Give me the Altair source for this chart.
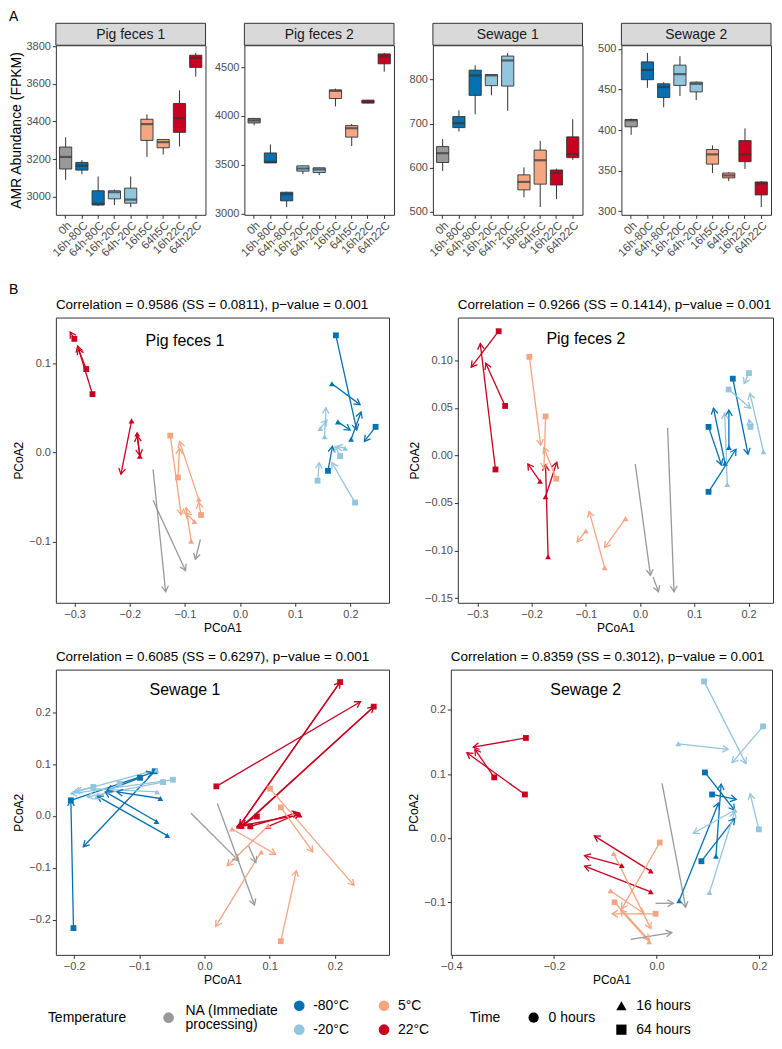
import altair as alt
import pandas as pd

FONT = "Liberation Sans"

# ---------------- categories ----------------
NA_T = "NA (Immediate processing)"
T_M80 = "-80°C"
T_M20 = "-20°C"
T_5 = "5°C"
T_22 = "22°C"
TEMP_ORDER = [NA_T, T_M80, T_M20, T_5, T_22]
TEMP_COLORS = ["#999999", "#0571b0", "#92c5de", "#f4a582", "#ca0020"]
TIME_ORDER = ["0 hours", "16 hours", "64 hours"]
TIME_SHAPES = ["circle", "triangle-up", "square"]
CODE_TEMP = {"NA": NA_T, "-80": T_M80, "-20": T_M20, "5": T_5, "22": T_22}
CODE_TIME = {"0": "0 hours", "16": "16 hours", "64": "64 hours"}

# ---------------- panel A: boxplots ----------------
GROUPS = ["0h", "16h-80C", "64h-80C", "16h-20C", "64h-20C", "16h5C", "64h5C", "16h22C", "64h22C"]
GROUP_TEMP = [NA_T, T_M80, T_M80, T_M20, T_M20, T_5, T_5, T_22, T_22]

PF1_LO = [3089, 3119, 2950, 2955, 2944, 3211, 3224, 3267, 3639]
PF1_Q1 = [3147, 3141, 2955, 2988, 2965, 3299, 3260, 3342, 3688]
PF1_MED = [3211, 3164, 2962, 3023, 2984, 3386, 3290, 3417, 3739]
PF1_Q3 = [3264, 3182, 3031, 3031, 3045, 3412, 3304, 3496, 3753]
PF1_HI = [3316, 3194, 3107, 3037, 3107, 3438, 3307, 3566, 3765]
PF1_TICKS = [3000, 3200, 3400, 3600, 3800]

PF2_LO = [3905, 3520, 3068, 3405, 3395, 4098, 3693, 4130, 4453]
PF2_Q1 = [3929, 3520, 3132, 3436, 3422, 4179, 3784, 4132, 4534]
PF2_MED = [3955, 3530, 3200, 3463, 3453, 4257, 3875, 4145, 4611]
PF2_Q3 = [3975, 3622, 3220, 3490, 3470, 4267, 3902, 4162, 4635]
PF2_HI = [3976, 3709, 3226, 3492, 3472, 4280, 3919, 4165, 4645]
PF2_TICKS = [3000, 3500, 4000, 4500]

SW1_LO = [593, 682, 721, 764, 729, 533, 511, 529, 618]
SW1_Q1 = [612, 691, 764, 786, 785, 550, 563, 561, 623]
SW1_MED = [633, 701, 809, 809, 843, 568, 617, 589, 631]
SW1_Q3 = [648, 716, 821, 811, 853, 584, 640, 595, 670]
SW1_HI = [665, 730, 832, 812, 860, 601, 661, 598, 710]
SW1_TICKS = [500, 600, 700, 800]

SW2_LO = [394, 452, 428, 442, 437, 347, 337, 352, 305]
SW2_Q1 = [404, 462, 440, 455, 447, 358, 341, 361, 320]
SW2_MED = [412, 474, 453, 469, 457, 370, 344, 370, 334]
SW2_Q3 = [413, 484, 457, 480, 459, 376, 347, 387, 336]
SW2_HI = [414, 495, 459, 491, 460, 381, 348, 402, 337]
SW2_TICKS = [300, 350, 400, 450, 500]

# ---------------- panel B: procrustes arrows ----------------
PF1_X0 = [-0.2676, -0.2790, -0.3006, -0.1968, -0.1866, -0.1818,
          -0.1266, -0.0750, -0.0888, -0.0708, -0.1128, -0.0828,
          -0.1578, -0.1578, -0.0720,
          0.1737, 0.1665, 0.1773, 0.2013, 0.2457, 0.1593,
          0.2085, 0.1405, 0.1532, 0.1454, 0.1814, 0.1905]
PF1_Y0 = [0.0658, 0.0940, 0.1280, 0.0357, 0.0210, -0.0040,
          0.0191, -0.0526, -0.0996, -0.0702, -0.0279, -0.0776,
          -0.0188, -0.0537, -0.0978,
          0.1320, 0.0776, 0.0346, 0.0151, 0.0290, -0.0205,
          -0.0562, -0.0316, 0.0180, 0.0272, -0.0040, 0.0050]
PF1_X1 = [-0.2946, -0.2934, -0.3080, -0.2160, -0.1818, -0.1866,
          -0.1068, -0.1098, -0.0978, -0.0750, -0.1098, -0.0990,
          -0.1350, -0.0990, -0.0810,
          0.2115, 0.2175, 0.1995, 0.2193, 0.2253, 0.1676,
          0.1665, 0.1436, 0.1557, 0.1575, 0.1724, 0.1755]
PF1_Y1 = [0.1199, 0.1170, 0.1357, -0.0243, -0.0033, 0.0190,
          -0.0700, 0.0125, -0.0620, -0.0560, 0.0050, -0.0680,
          -0.1566, -0.1327, -0.1200,
          0.0254, 0.0540, 0.0254, 0.0456, 0.0126, 0.0070,
          -0.0114, -0.0114, 0.0504, 0.0364, 0.0070, 0.0070]
PF1_TEMP = ["22", "22", "22", "22", "22", "22", "5", "5", "5", "5", "5", "5", "NA", "NA", "NA",
            "-80", "-80", "-80", "-80", "-80", "-80", "-20", "-20", "-20", "-20", "-20", "-20"]
PF1_TIME = ["64", "64", "64", "16", "16", "16", "64", "16", "16", "64", "64", "16", "0", "0", "0",
            "64", "16", "16", "16", "64", "64", "64", "64", "16", "16", "64", "16"]

PF2_X0 = [-0.2607, -0.2666, -0.2488, -0.1845, -0.1743, -0.1696,
          -0.2041, -0.1743, -0.1546, -0.0654, -0.0268, -0.1000,
          -0.0089, 0.0507, 0.0239,
          0.1709, 0.1262, 0.1262, 0.1566, 0.1637,
          0.2007, 0.1632, 0.2275, 0.1607, 0.2035]
PF2_Y0 = [0.1306, -0.0148, 0.0520, -0.0272, -0.0434, -0.1065,
          0.1037, 0.0410, -0.0245, -0.1180, -0.0665, -0.0796,
          -0.0090, 0.0290, -0.1280,
          0.0807, 0.0300, -0.0383, -0.0083, 0.0083,
          0.0866, 0.0693, 0.0038, -0.0307, 0.0300]
PF2_X1 = [-0.3113, -0.2946, -0.2845, -0.2070, -0.1536, -0.1743,
          -0.1832, -0.1773, -0.1773, -0.0939, -0.0654, -0.1160,
          0.0191, 0.0625, 0.0340,
          0.1989, 0.1500, 0.1768, 0.1352, 0.1637,
          0.1918, 0.2036, 0.2025, 0.1560, 0.2010]
PF2_Y1 = [0.0928, 0.1176, 0.0969, -0.0090, -0.0072, -0.0100,
          0.0107, -0.0142, 0.0083, -0.0589, -0.0969, -0.0910,
          -0.1262, -0.1434, -0.1434,
          0.0013, -0.0100, 0.0065, 0.0496, 0.0476,
          0.0755, 0.0496, 0.0652, 0.0445, 0.0375]
PF2_TEMP = ["22", "22", "22", "22", "22", "22", "5", "5", "5", "5", "5", "5", "NA", "NA", "NA",
            "-80", "-80", "-80", "-80", "-80", "-20", "-20", "-20", "-20", "-20"]
PF2_TIME = ["64", "64", "64", "16", "16", "16", "64", "64", "64", "16", "16", "16", "0", "0", "0",
            "64", "64", "64", "16", "16", "64", "64", "16", "16", "64"]

SW1_X0 = [-0.2010, -0.0763, -0.0571, -0.0737, -0.0677, -0.0990, -0.2050,
          -0.0485, -0.0737, -0.0636, -0.0727, -0.1707, -0.1303,
          -0.0207, 0.0197, 0.0677,
          0.0182, 0.0529, 0.0575, 0.2080, 0.2596, 0.1459, 0.0979, 0.0702, 0.0803,
          0.1004, 0.1171, 0.1171, 0.0424, 0.0868, 0.0979]
SW1_Y0 = [-0.2163, 0.0860, -0.0380, -0.0108, 0.0335, 0.0734, 0.0300,
          0.0696, 0.0886, 0.0651, 0.0462, 0.0557, 0.0620,
          0.0051, 0.0240, -0.0582,
          0.0569, -0.0202, -0.0202, 0.2580, 0.2106, 0.0019, -0.0202, -0.0202, -0.0013,
          0.0525, 0.0164, -0.2416, -0.0253, -0.0696, -0.0190]
SW1_X1 = [-0.2050, -0.1859, -0.1646, -0.1520, -0.1343, -0.1495, -0.0800,
          -0.2050, -0.2000, -0.1798, -0.1747, -0.1960, -0.1680,
          0.0525, 0.0767, 0.0788,
          0.2393, 0.2080, 0.2596, 0.0540, 0.0590, 0.0499, 0.1459, 0.1434, 0.0500,
          0.2292, 0.1661, 0.1409, 0.1090, 0.0172, 0.0348]
SW1_Y1 = [0.0304, -0.0595, 0.0380, 0.0462, 0.0462, 0.0493, 0.0835,
          0.0430, 0.0460, 0.0367, 0.0525, 0.0470, 0.0330,
          -0.0867, -0.1720, -0.0898,
          0.2201, 0.2580, 0.2106, -0.0190, -0.0200, -0.0202, 0.0051, 0.0063, -0.0215,
          -0.1341, -0.0696, -0.1056, -0.0740, -0.2132, -0.0961]
SW1_TEMP = ["-80", "-80", "-80", "-80", "-80", "-80", "-80",
            "-20", "-20", "-20", "-20", "-20", "-20",
            "NA", "NA", "NA",
            "22", "22", "22", "22", "22", "22", "22", "22", "22",
            "5", "5", "5", "5", "5", "5"]
SW1_TIME = ["64", "64", "16", "16", "16", "64", "64",
            "64", "16", "64", "16", "64", "64",
            "0", "0", "0",
            "64", "16", "16", "64", "64", "16", "16", "64", "64",
            "64", "64", "64", "16", "16", "16"]

SW2_X0 = [-0.2547, -0.2566, -0.3164, -0.0113, -0.0113, -0.0679,
          0.0063, -0.0836, -0.0899, -0.0019, -0.0818, -0.0145,
          0.0107, -0.0019, -0.0503,
          0.0440, 0.0874, 0.1157, 0.0943, 0.1082,
          0.0925, 0.2075, 0.0421, 0.1994, 0.1031, 0.1522]
SW2_Y0 = [0.1564, 0.0682, 0.0949, -0.0513, -0.0836, -0.0426,
          -0.0067, -0.0240, -0.0821, -0.1179, -0.1000, -0.1615,
          0.0856, -0.1015, -0.1579,
          -0.0974, -0.0359, -0.0282, 0.1026, 0.0682,
          0.2446, 0.1744, 0.1472, 0.0138, -0.0846, 0.0436]
SW2_X1 = [-0.3572, -0.3698, -0.3541, -0.1214, -0.1403, -0.1403,
          -0.0679, -0.0113, -0.0239, -0.0868, -0.0145, -0.0700,
          0.0566, 0.0327, 0.0296,
          0.1208, 0.1522, 0.1258, 0.1522, 0.1553,
          0.1742, 0.1472, 0.1396, 0.1824, 0.1522, 0.0717]
SW2_Y1 = [0.1420, 0.1333, 0.1385, 0.0036, -0.0436, -0.0272,
          -0.1103, -0.1410, -0.1179, -0.1179, -0.1590, -0.1120,
          -0.1077, -0.1015, -0.1472,
          0.0549, 0.0308, 0.0846, 0.0436, 0.0605,
          0.1164, 0.1179, 0.1385, 0.0692, 0.0410, 0.0077]
SW2_TEMP = ["22", "22", "22", "22", "22", "22", "5", "5", "5", "5", "5", "5", "NA", "NA", "NA",
            "-80", "-80", "-80", "-80", "-80", "-20", "-20", "-20", "-20", "-20", "-20"]
SW2_TIME = ["64", "64", "64", "16", "16", "16", "64", "16", "16", "64", "64", "16", "0", "0", "0",
            "16", "64", "16", "64", "64", "64", "64", "16", "64", "16", "16"]

TITLE_PF1 = "Correlation = 0.9586 (SS = 0.0811), p\u2212value = 0.001"
TITLE_PF2 = "Correlation = 0.9266 (SS = 0.1414), p\u2212value = 0.001"
TITLE_SW1 = "Correlation = 0.6085 (SS = 0.6297), p\u2212value = 0.001"
TITLE_SW2 = "Correlation = 0.8359 (SS = 0.3012), p\u2212value = 0.001"

# ---------------- scales ----------------
TEMP_SCALE = alt.Scale(domain=TEMP_ORDER, range=TEMP_COLORS)
TIME_SCALE = alt.Scale(domain=TIME_ORDER, range=TIME_SHAPES)

ARROW = "M-0.55,0.95L0,0L0.55,0.95"
BOX_W, BOX_H = 150, 170


def box_panel(name, lo, q1, med, q3, hi, ticks, first=False):
    df = pd.DataFrame({"group": GROUPS, "temp": GROUP_TEMP, "lo": lo, "q1": q1,
                       "med": med, "q3": q3, "hi": hi})
    rng = max(hi) - min(lo)
    dom = [min(lo) - 0.05 * rng, max(hi) + 0.05 * rng]
    x = alt.X("group:N", sort=GROUPS,
              scale=alt.Scale(paddingInner=0.25, paddingOuter=0.225),
              axis=alt.Axis(title=None, labelAngle=-45, labelAlign="right",
                            labelBaseline="top", labelFontSize=11.5, labelPadding=1,
                            labelColor="#4d4d4d"))
    yax = alt.Axis(values=ticks, format="d", title="AMR Abundance (FPKM)" if first else None,
                   titleFontSize=14, titlePadding=2, minExtent=30, maxExtent=30)
    ys = alt.Scale(domain=dom, nice=False, zero=False)
    base = alt.Chart(df)
    whisk = base.mark_rule(color="#333333", strokeWidth=1).encode(
        x=x, y=alt.Y("lo:Q", scale=ys, axis=yax), y2="hi:Q")
    box = base.mark_bar(stroke="#333333", strokeWidth=0.9).encode(
        x=x, y=alt.Y("q1:Q", scale=ys, axis=yax), y2="q3:Q",
        fill=alt.Fill("temp:N", scale=TEMP_SCALE, legend=None))
    medl = base.mark_tick(color="#333333", thickness=2.2).encode(
        x=x, y=alt.Y("med:Q", scale=ys, axis=yax))
    hdr = alt.Chart(pd.DataFrame({"t": [name]}))
    strip = hdr.mark_rect(fill="#d9d9d9", stroke="#333333", strokeWidth=1).encode(
        x=alt.value(0), x2=alt.value(BOX_W), y=alt.value(-22), y2=alt.value(0))
    strip_t = hdr.mark_text(font=FONT, fontSize=14, color="#1a1a1a", baseline="middle").encode(
        x=alt.value(BOX_W / 2), y=alt.value(-10.5), text="t:N")
    layers = [whisk, box, medl, strip, strip_t]
    if first:
        for letter, ly in (("A", -35), ("B", BOX_H + 68)):
            layers.append(alt.Chart(pd.DataFrame({"t": [letter]})).mark_text(
                font=FONT, fontSize=14, align="left", baseline="top", color="black").encode(
                x=alt.value(-47), y=alt.value(ly), text="t:N"))
    return alt.layer(*layers).properties(width=BOX_W, height=BOX_H)


def pcoa_panel(x0, y0, x1, y1, temps, times, title, label, lx, ly, W, H,
               xdom, ydom, xticks, yticks, yfmt):
    df = pd.DataFrame({"x0": x0, "y0": y0, "x1": x1, "y1": y1,
                       "temp": [CODE_TEMP[t] for t in temps],
                       "time": [CODE_TIME[t] for t in times]})
    kx = W / (xdom[1] - xdom[0])
    ky = H / (ydom[1] - ydom[0])
    xs = alt.Scale(domain=xdom, nice=False, zero=False)
    ys = alt.Scale(domain=ydom, nice=False, zero=False)
    xax = alt.Axis(values=xticks, format=".1f", title="PCoA1")
    yax = alt.Axis(values=yticks, format=yfmt, title="PCoA2")
    col = alt.Color("temp:N", scale=TEMP_SCALE, legend=None)
    base = alt.Chart(df)
    seg = base.mark_rule(strokeWidth=1.3).encode(
        x=alt.X("x0:Q", scale=xs, axis=xax), y=alt.Y("y0:Q", scale=ys, axis=yax),
        x2="x1:Q", y2="y1:Q", color=col)
    head = base.transform_calculate(
        ang=f"(atan2((datum.x1 - datum.x0) * {kx:.3f}, (datum.y1 - datum.y0) * {ky:.3f}) * 180 / PI + 360) % 360"
    ).mark_point(shape=ARROW, filled=False, size=150, strokeWidth=1.3, opacity=1).encode(
        x=alt.X("x1:Q", scale=xs, axis=xax), y=alt.Y("y1:Q", scale=ys, axis=yax),
        angle=alt.Angle("ang:Q", scale=None), color=col)
    pts = base.transform_filter(f"datum.temp != '{NA_T}'").mark_point(
        filled=True, size=34, opacity=1).encode(
        x=alt.X("x0:Q", scale=xs, axis=xax), y=alt.Y("y0:Q", scale=ys, axis=yax),
        color=col, shape=alt.Shape("time:N", scale=TIME_SCALE, legend=None))
    lab = alt.Chart(pd.DataFrame({"lx": [lx], "ly": [ly], "t": [label]})).mark_text(
        font=FONT, fontSize=16, color="black").encode(
        x=alt.X("lx:Q", scale=xs, axis=xax), y=alt.Y("ly:Q", scale=ys, axis=yax), text="t:N")
    return alt.layer(seg, head, pts, lab).properties(
        width=W, height=H,
        title=alt.TitleParams(title, anchor="start", frame="group", fontSize=13.5,
                              font=FONT, fontWeight="normal", color="black", offset=6))


def legend_chart():
    one = pd.DataFrame({"k": [0]})
    layers = []

    def txt(s, x, y):
        return alt.Chart(one).mark_text(font=FONT, fontSize=14, color="black", align="left",
                                        baseline="middle", text=s).encode(
            x=alt.value(x), y=alt.value(y))

    r1, r2, mid = 13, 37, 25
    dx = -47
    layers.append(txt("Temperature", 39 + dx, mid))
    temp_slots = [(NA_T, 160, mid), (T_M80, 291, r1), (T_M20, 291, r2), (T_5, 376, r1), (T_22, 376, r2)]
    for cat, sx, sy in temp_slots:
        layers.append(alt.Chart(pd.DataFrame({"temp": [cat]})).mark_point(
            filled=True, size=115, opacity=1, shape="circle").encode(
            x=alt.value(sx + dx), y=alt.value(sy),
            color=alt.Color("temp:N", scale=TEMP_SCALE, legend=None)))
        if cat == NA_T:
            layers.append(txt("NA (Immediate", sx + 17 + dx, mid - 7))
            layers.append(txt("processing)", sx + 17 + dx, mid + 7))
        else:
            layers.append(txt(cat, sx + 14 + dx, sy))
    layers.append(txt("Time", 462 + dx, mid))
    time_slots = [("0 hours", "circle", 526, mid), ("16 hours", "triangle-up", 614, r1),
                  ("64 hours", "square", 614, r2)]
    for lab, shp, sx, sy in time_slots:
        layers.append(alt.Chart(one).mark_point(filled=True, size=105, opacity=1,
                                                shape=shp, color="black").encode(
            x=alt.value(sx + dx), y=alt.value(sy)))
        layers.append(txt(lab, sx + 15 + dx, sy))
    return alt.layer(*layers).properties(width=620, height=44,
                                         view=alt.ViewBackground(stroke="transparent"))


bp1 = box_panel("Pig feces 1", PF1_LO, PF1_Q1, PF1_MED, PF1_Q3, PF1_HI, PF1_TICKS, first=True)
bp2 = box_panel("Pig feces 2", PF2_LO, PF2_Q1, PF2_MED, PF2_Q3, PF2_HI, PF2_TICKS)
bp3 = box_panel("Sewage 1", SW1_LO, SW1_Q1, SW1_MED, SW1_Q3, SW1_HI, SW1_TICKS)
bp4 = box_panel("Sewage 2", SW2_LO, SW2_Q1, SW2_MED, SW2_Q3, SW2_HI, SW2_TICKS)

PH = 286
pf1 = pcoa_panel(PF1_X0, PF1_Y0, PF1_X1, PF1_Y1, PF1_TEMP, PF1_TIME, TITLE_PF1, "Pig feces 1",
                 -0.1, 0.126, 334, PH, [-0.334, 0.270], [-0.169, 0.152],
                 [-0.3, -0.2, -0.1, 0.0, 0.1, 0.2], [-0.1, 0.0, 0.1], ".1f")
pf2 = pcoa_panel(PF2_X0, PF2_Y0, PF2_X1, PF2_Y1, PF2_TEMP, PF2_TIME, TITLE_PF2, "Pig feces 2",
                 -0.1, 0.122, 316, PH, [-0.336, 0.245], [-0.155, 0.145],
                 [-0.3, -0.2, -0.1, 0.0, 0.1, 0.2], [-0.15, -0.10, -0.05, 0.0, 0.05, 0.10], ".2f")
sw1 = pcoa_panel(SW1_X0, SW1_Y0, SW1_X1, SW1_Y1, SW1_TEMP, SW1_TIME, TITLE_SW1, "Sewage 1",
                 -0.03, 0.242, 334, PH, [-0.228, 0.283], [-0.268, 0.282],
                 [-0.2, -0.1, 0.0, 0.1, 0.2], [-0.2, -0.1, 0.0, 0.1, 0.2], ".1f")
sw2 = pcoa_panel(SW2_X0, SW2_Y0, SW2_X1, SW2_Y1, SW2_TEMP, SW2_TIME, TITLE_SW2, "Sewage 2",
                 -0.138, 0.231, 322, PH, [-0.401, 0.225], [-0.182, 0.263],
                 [-0.4, -0.2, 0.0, 0.2], [-0.1, 0.0, 0.1, 0.2], ".1f")

top = alt.hconcat(bp1, bp2, bp3, bp4, spacing=7)
row2 = alt.hconcat(pf1, pf2, spacing=18)
row3 = alt.hconcat(sw1, sw2, spacing=17)

main = alt.vconcat(top, alt.vconcat(row2, row3, spacing=16), spacing=0)
chart = alt.vconcat(main, legend_chart(), spacing=6).properties(
    padding=0
).configure_view(
    stroke="#333333", strokeWidth=1
).configure_axis(
    domain=False, grid=False, tickColor="#333333", tickSize=3.5, tickWidth=1,
    labelColor="#4d4d4d", labelFont=FONT, labelFontSize=11, labelPadding=2,
    titleFont=FONT, titleFontSize=12, titleFontWeight="normal", titleColor="black",
    titlePadding=3, labelFlush=False
)

chart.save("out.html", embed_options={"renderer": "svg", "actions": False})
